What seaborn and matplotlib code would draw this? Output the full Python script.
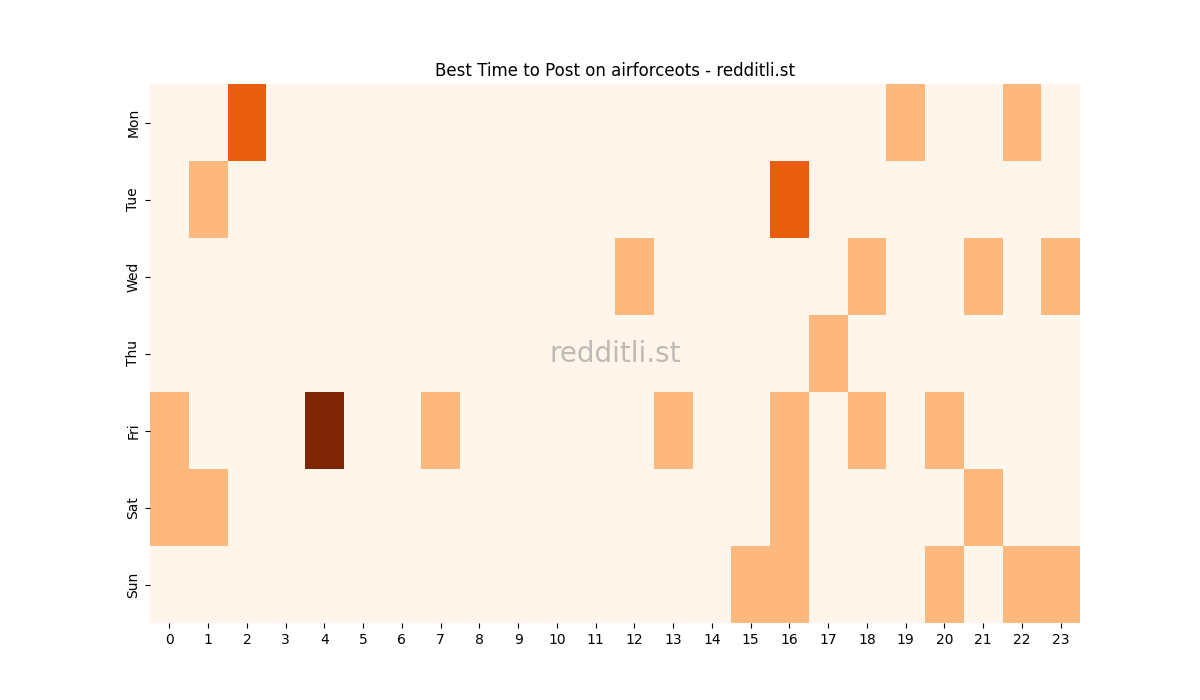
import matplotlib
matplotlib.use('Agg')
import matplotlib.pyplot as plt
import numpy as np
import pandas as pd
import seaborn as sns

# Giorni e ore
days = ['Mon', 'Tue', 'Wed', 'Thu', 'Fri', 'Sat', 'Sun']
hours = list(range(24))

# Numero di post per (giorno, ora)
mon = [0, 0, 2, 0, 0, 0, 0, 0, 0, 0, 0, 0, 0, 0, 0, 0, 0, 0, 0, 1, 0, 0, 1, 0]
tue = [0, 1, 0, 0, 0, 0, 0, 0, 0, 0, 0, 0, 0, 0, 0, 0, 2, 0, 0, 0, 0, 0, 0, 0]
wed = [0, 0, 0, 0, 0, 0, 0, 0, 0, 0, 0, 0, 1, 0, 0, 0, 0, 0, 1, 0, 0, 1, 0, 1]
thu = [0, 0, 0, 0, 0, 0, 0, 0, 0, 0, 0, 0, 0, 0, 0, 0, 0, 1, 0, 0, 0, 0, 0, 0]
fri = [1, 0, 0, 0, 3, 0, 0, 1, 0, 0, 0, 0, 0, 1, 0, 0, 1, 0, 1, 0, 1, 0, 0, 0]
sat = [1, 1, 0, 0, 0, 0, 0, 0, 0, 0, 0, 0, 0, 0, 0, 0, 1, 0, 0, 0, 0, 1, 0, 0]
sun = [0, 0, 0, 0, 0, 0, 0, 0, 0, 0, 0, 0, 0, 0, 0, 1, 1, 0, 0, 0, 1, 0, 1, 1]

df = pd.DataFrame([mon, tue, wed, thu, fri, sat, sun], index=days, columns=hours)

fig, ax = plt.subplots(figsize=(12, 7), dpi=100)
sns.heatmap(df, cmap='Oranges', cbar=False, ax=ax)

ax.set_title('Best Time to Post on airforceots - redditli.st')
ax.set_xlabel('')
ax.set_ylabel('')

# Watermark al centro
ax.text(0.5, 0.5, 'redditli.st', transform=ax.transAxes, fontsize=20,
        color='gray', alpha=0.5, ha='center', va='center')

fig.savefig('out.png')
